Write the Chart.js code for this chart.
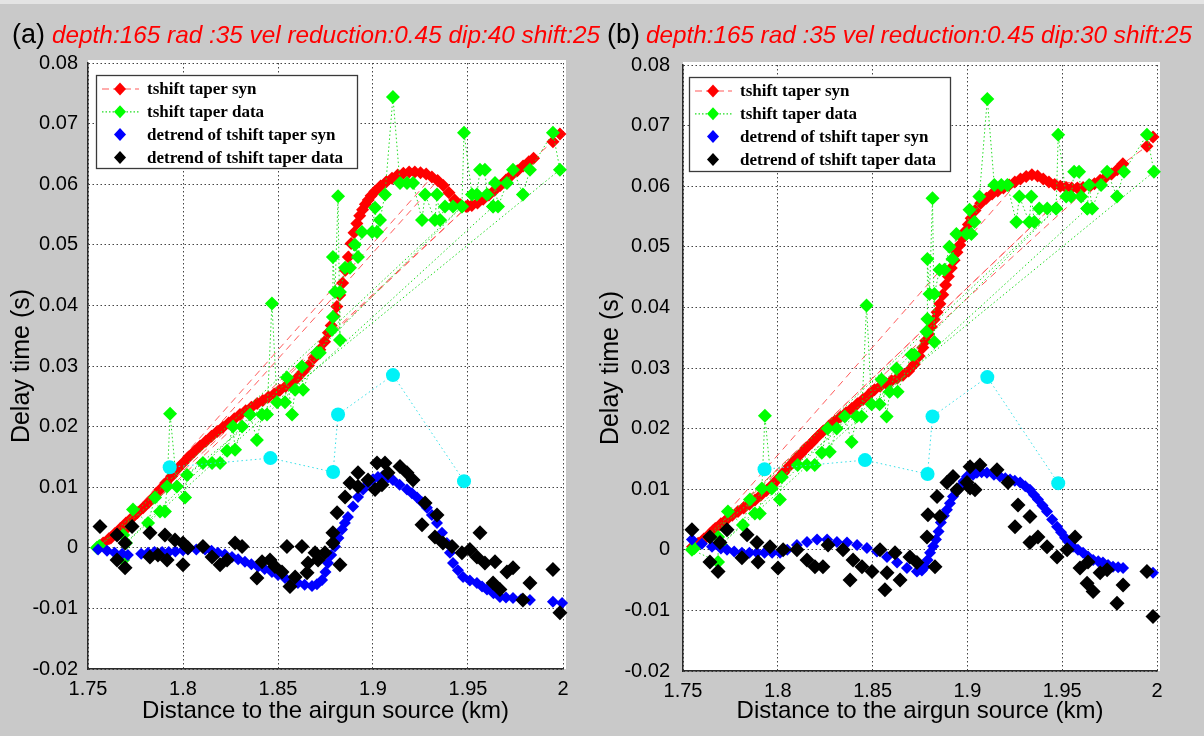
<!DOCTYPE html>
<html><head><meta charset="utf-8">
<script src="https://cdn.jsdelivr.net/npm/chart.js@4.4.0/dist/chart.umd.min.js"></script>
<style>
html,body{margin:0;padding:0;}
body{width:1204px;height:736px;background:#c9c9c9;position:relative;overflow:hidden;font-family:'Liberation Sans',Arial,sans-serif;}
.topline{position:absolute;left:0;top:0;width:1204px;height:4px;background:#e4e4e4;}
.wrap{position:absolute;top:0;height:736px;}
#wa{left:0;width:602px;}
#wb{left:596px;width:608px;}
.lab{position:absolute;font-size:27px;color:#000;white-space:nowrap;line-height:1;z-index:5;}
.hdr{position:absolute;color:#ff0000;font-style:italic;font-size:24px;white-space:nowrap;line-height:1;transform-origin:0 0;z-index:5;}
</style>
</head><body>
<div class="topline"></div>
<div class="wrap" id="wa"><canvas id="ca" width="602" height="736"></canvas></div>
<div class="wrap" id="wb"><canvas id="cb" width="608" height="736"></canvas></div>
<div class="lab" style="left:12px;top:21px;">(a)</div>
<div class="hdr" id="ha" style="left:52px;top:23px;">depth:165 rad :35 vel reduction:0.45 dip:40 shift:25</div>
<div class="lab" style="left:607px;top:21px;">(b)</div>
<div class="hdr" id="hb" style="left:646px;top:23px;">depth:165 rad :35 vel reduction:0.45 dip:30 shift:25</div>
<script>
// ---------- axes ----------
const xTickValues = [1.75, 1.8, 1.85, 1.9, 1.95, 2];
const xTickLabels = ['1.75', '1.8', '1.85', '1.9', '1.95', '2'];
const yTickValues = [-0.02, -0.01, 0, 0.01, 0.02, 0.03, 0.04, 0.05, 0.06, 0.07, 0.08];
const yTickLabels = ['-0.02', '-0.01', '0', '0.01', '0.02', '0.03', '0.04', '0.05', '0.06', '0.07', '0.08'];
const xTitle = 'Distance to the airgun source (km)';
const yTitle = 'Delay time (s)';
const seriesNames = ['tshift taper syn', 'tshift taper data', 'detrend of tshift taper syn', 'detrend of tshift taper data'];

// ---------- panel (a) : tshift taper syn ----------
const synA_part1 = [[1.755,0.0000],[1.758,0.0008],[1.761,0.0015],[1.764,0.0023],[1.767,0.0032],[1.770,0.0041],[1.773,0.0049],[1.776,0.0058],[1.779,0.0066],[1.782,0.0075],[1.785,0.0085],[1.788,0.0096],[1.791,0.0107],[1.794,0.0118],[1.797,0.0130],[1.800,0.0140],[1.803,0.0150],[1.806,0.0159],[1.809,0.0168],[1.812,0.0176],[1.815,0.0184],[1.818,0.0192],[1.821,0.0199],[1.824,0.0206],[1.827,0.0213],[1.830,0.0220],[1.833,0.0226],[1.836,0.0232],[1.839,0.0238],[1.842,0.0243],[1.845,0.0249],[1.848,0.0254],[1.851,0.0260],[1.854,0.0266],[1.857,0.0273],[1.860,0.0280],[1.863,0.0290],[1.866,0.0301],[1.869,0.0313],[1.872,0.0327],[1.8745,0.0340],[1.8765,0.0355],[1.878,0.0367],[1.8795,0.0382],[1.881,0.0398],[1.8825,0.0417],[1.884,0.0437],[1.8855,0.0458],[1.887,0.0480],[1.8885,0.0502],[1.890,0.0520],[1.8915,0.0535],[1.893,0.0548],[1.8945,0.0558],[1.896,0.0567],[1.8975,0.0574],[1.899,0.0581],[1.901,0.0588],[1.904,0.0597],[1.907,0.0604],[1.910,0.0610],[1.913,0.0615],[1.916,0.0618],[1.919,0.0620],[1.922,0.0620],[1.925,0.0619],[1.928,0.0617],[1.931,0.0612]];
const synA_jumps = [[1.762,0.0016],[1.950,0.0564],[1.769,0.0028]];
const synA_part2 = [[1.934,0.0606],[1.937,0.0598],[1.940,0.0586],[1.943,0.0574],[1.946,0.0566],[1.949,0.0563],[1.952,0.0565],[1.955,0.0569],[1.958,0.0575],[1.961,0.0582],[1.964,0.0590],[1.967,0.0598],[1.970,0.0607],[1.973,0.0615],[1.976,0.0622],[1.979,0.0630],[1.982,0.0637],[1.9845,0.0643],[1.9947,0.0670],[1.9984,0.0683]];

// ---------- tshift taper data (same in both panels) ----------
const taperData = [[1.7547,0.0000],[1.7685,-0.0020],[1.7685,0.0021],[1.7737,0.0063],[1.7816,0.0041],[1.7853,0.0083],[1.7879,0.0060],[1.7905,0.0060],[1.7916,0.0101],[1.7932,0.0221],[1.7968,0.0101],[1.8011,0.0083],[1.8021,0.0120],[1.8105,0.0140],[1.8153,0.0140],[1.8195,0.0140],[1.8232,0.0160],[1.8263,0.0200],[1.8274,0.0162],[1.8311,0.0200],[1.8353,0.0220],[1.8389,0.0178],[1.8416,0.0220],[1.8442,0.0220],[1.8468,0.0403],[1.8495,0.0240],[1.8537,0.0240],[1.8547,0.0281],[1.8574,0.0220],[1.8590,0.0261],[1.8626,0.0299],[1.8632,0.0261],[1.8705,0.0322],[1.8720,0.0322],[1.8784,0.0360],[1.8789,0.0381],[1.8789,0.0480],[1.8800,0.0422],[1.8816,0.0580],[1.8826,0.0343],[1.8826,0.0422],[1.8853,0.0462],[1.8879,0.0462],[1.8905,0.0500],[1.8921,0.0480],[1.8942,0.0521],[1.8995,0.0521],[1.9011,0.0561],[1.9021,0.0521],[1.9037,0.0541],[1.9063,0.0583],[1.9105,0.0744],[1.9142,0.0602],[1.9179,0.0602],[1.9211,0.0602],[1.9258,0.0541],[1.9274,0.0583],[1.9326,0.0541],[1.9337,0.0583],[1.9353,0.0541],[1.9379,0.0563],[1.9421,0.0563],[1.9468,0.0563],[1.9479,0.0685],[1.9521,0.0583],[1.9547,0.0583],[1.9563,0.0624],[1.9589,0.0624],[1.9600,0.0583],[1.9632,0.0563],[1.9642,0.0602],[1.9658,0.0563],[1.9705,0.0602],[1.9737,0.0624],[1.9789,0.0583],[1.9826,0.0624],[1.9947,0.0685],[1.9984,0.0624]];
const taperDataJumps = [[1.7560,0.0003],[1.9468,0.0563],[1.7700,0.0008],[1.9632,0.0563]];

// ---------- cyan points (same in both panels) ----------
const cyanPts = [[1.7930,0.0133],[1.8460,0.0148],[1.8790,0.0125],[1.8816,0.0220],[1.9105,0.0285],[1.9479,0.0110]];

// ---------- panel (a) : detrend ----------
const detSynA = [[1.7553,-0.0003],[1.7600,-0.0005],[1.7640,-0.0008],[1.7680,-0.0010],[1.7710,-0.0012],[1.7780,-0.0010],[1.7816,-0.0008],[1.7850,-0.0007],[1.7890,-0.0007],[1.7925,-0.0007],[1.7960,-0.0006],[1.8000,-0.0004],[1.8026,-0.0003],[1.8070,-0.0003],[1.8116,-0.0003],[1.8150,-0.0005],[1.8184,-0.0008],[1.8220,-0.0011],[1.8258,-0.0015],[1.8290,-0.0019],[1.8326,-0.0023],[1.8360,-0.0027],[1.8395,-0.0031],[1.8430,-0.0035],[1.8468,-0.0040],[1.8500,-0.0045],[1.8537,-0.0050],[1.8570,-0.0054],[1.8605,-0.0058],[1.8640,-0.0061],[1.8679,-0.0063],[1.8705,-0.0060],[1.8732,-0.0053],[1.8750,-0.0040],[1.8763,-0.0025],[1.8780,-0.0012],[1.8800,0.0002],[1.8818,0.0016],[1.8837,0.0030],[1.8852,0.0041],[1.8868,0.0051],[1.8895,0.0068],[1.8921,0.0084],[1.8948,0.0096],[1.8974,0.0107],[1.9000,0.0113],[1.9026,0.0117],[1.9050,0.0118],[1.9079,0.0116],[1.9105,0.0112],[1.9140,0.0104],[1.9179,0.0096],[1.9205,0.0090],[1.9232,0.0083],[1.9258,0.0075],[1.9284,0.0066],[1.9310,0.0054],[1.9337,0.0041],[1.9363,0.0025],[1.9389,0.0008],[1.9405,-0.0008],[1.9421,-0.0025],[1.9447,-0.0037],[1.9474,-0.0048],[1.9510,-0.0054],[1.9547,-0.0058],[1.9574,-0.0064],[1.9600,-0.0069],[1.9634,-0.0075],[1.9668,-0.0081],[1.9700,-0.0082],[1.9737,-0.0083],[1.9780,-0.0085],[1.9826,-0.0086],[1.9947,-0.0089],[1.9995,-0.0091]];
const detDataA = [[1.7563,0.0035],[1.7653,0.0021],[1.7653,-0.0020],[1.7695,0.0008],[1.7695,-0.0033],[1.7732,0.0035],[1.7826,0.0025],[1.7826,-0.0015],[1.7868,-0.0012],[1.7905,0.0021],[1.7916,-0.0020],[1.7958,0.0013],[1.8000,0.0008],[1.8000,-0.0028],[1.8026,0.0000],[1.8105,0.0002],[1.8153,-0.0015],[1.8195,-0.0028],[1.8232,-0.0020],[1.8274,0.0008],[1.8311,0.0002],[1.8389,-0.0050],[1.8416,-0.0023],[1.8458,-0.0020],[1.8484,-0.0031],[1.8521,-0.0040],[1.8547,0.0002],[1.8563,-0.0064],[1.8590,-0.0048],[1.8626,0.0002],[1.8653,-0.0041],[1.8658,-0.0025],[1.8695,-0.0008],[1.8711,-0.0020],[1.8747,-0.0008],[1.8789,0.0008],[1.8789,0.0025],[1.8811,0.0058],[1.8826,-0.0028],[1.8853,0.0084],[1.8879,0.0107],[1.8921,0.0124],[1.8921,0.0101],[1.8974,0.0112],[1.9011,0.0096],[1.9021,0.0140],[1.9047,0.0104],[1.9063,0.0140],[1.9079,0.0124],[1.9142,0.0134],[1.9179,0.0124],[1.9211,0.0112],[1.9258,0.0038],[1.9274,0.0074],[1.9326,0.0018],[1.9337,0.0054],[1.9368,0.0008],[1.9416,0.0002],[1.9468,-0.0008],[1.9510,-0.0003],[1.9547,-0.0015],[1.9563,0.0025],[1.9589,-0.0025],[1.9632,-0.0058],[1.9642,-0.0023],[1.9668,-0.0069],[1.9705,-0.0040],[1.9737,-0.0033],[1.9789,-0.0086],[1.9826,-0.0058],[1.9947,-0.0036],[1.9984,-0.0107]];

// ---------- panel (b) : tshift taper syn ----------
const synB_part1 = [[1.755,0.0005],[1.758,0.0011],[1.761,0.0018],[1.764,0.0026],[1.767,0.0035],[1.770,0.0043],[1.773,0.0050],[1.776,0.0057],[1.779,0.0063],[1.782,0.0069],[1.785,0.0075],[1.788,0.0082],[1.791,0.0090],[1.794,0.0098],[1.797,0.0107],[1.800,0.0117],[1.803,0.0127],[1.806,0.0138],[1.809,0.0148],[1.812,0.0158],[1.815,0.0168],[1.818,0.0177],[1.821,0.0187],[1.824,0.0196],[1.827,0.0204],[1.830,0.0212],[1.833,0.0219],[1.836,0.0226],[1.839,0.0233],[1.842,0.0241],[1.845,0.0248],[1.848,0.0256],[1.851,0.0264],[1.854,0.0270],[1.857,0.0275],[1.860,0.0279],[1.863,0.0283],[1.866,0.0288],[1.869,0.0295],[1.872,0.0306],[1.8745,0.0320],[1.8765,0.0334],[1.878,0.0345],[1.8795,0.0356],[1.881,0.0368],[1.8825,0.0380],[1.884,0.0392],[1.8855,0.0406],[1.887,0.0421],[1.8885,0.0437],[1.890,0.0451],[1.8915,0.0465],[1.893,0.0478],[1.8945,0.0491],[1.896,0.0503],[1.8975,0.0515],[1.899,0.0526],[1.9005,0.0537],[1.902,0.0547],[1.904,0.0560],[1.907,0.0572],[1.910,0.0580],[1.913,0.0587],[1.916,0.0592],[1.919,0.0597],[1.922,0.0602],[1.925,0.0607],[1.928,0.0612]];
const synB_jumps = [[1.760,0.0014],[1.955,0.0597],[1.766,0.0032],[1.965,0.0601]];
const synB_part2 = [[1.931,0.0616],[1.934,0.0619],[1.937,0.0617],[1.940,0.0612],[1.943,0.0607],[1.946,0.0603],[1.949,0.0600],[1.952,0.0598],[1.958,0.0597],[1.961,0.0598],[1.967,0.0604],[1.970,0.0610],[1.973,0.0615],[1.976,0.0620],[1.979,0.0627],[1.982,0.0637],[1.9947,0.0666],[1.9979,0.0681]];

// ---------- panel (b) : detrend ----------
const detSynB = [[1.7547,0.0017],[1.7600,0.0010],[1.7653,0.0005],[1.7700,0.0002],[1.7732,0.0000],[1.7770,-0.0003],[1.7811,-0.0005],[1.7850,-0.0005],[1.7890,-0.0005],[1.7930,-0.0005],[1.7970,-0.0005],[1.8012,-0.0005],[1.8050,0.0000],[1.8101,0.0008],[1.8154,0.0013],[1.8207,0.0017],[1.8260,0.0017],[1.8312,0.0013],[1.8365,0.0012],[1.8418,0.0008],[1.8470,0.0003],[1.8523,-0.0003],[1.8576,-0.0012],[1.8629,-0.0021],[1.8681,-0.0030],[1.8734,-0.0036],[1.8760,-0.0034],[1.8776,-0.0028],[1.8790,-0.0017],[1.8803,-0.0005],[1.8820,0.0006],[1.8834,0.0017],[1.8848,0.0030],[1.8860,0.0045],[1.8876,0.0056],[1.8892,0.0066],[1.8908,0.0077],[1.8924,0.0088],[1.8942,0.0096],[1.8961,0.0104],[1.8980,0.0113],[1.8998,0.0121],[1.9030,0.0124],[1.9050,0.0127],[1.9075,0.0128],[1.9103,0.0127],[1.9140,0.0124],[1.9172,0.0121],[1.9200,0.0118],[1.9225,0.0116],[1.9250,0.0114],[1.9278,0.0111],[1.9305,0.0105],[1.9330,0.0099],[1.9351,0.0091],[1.9372,0.0083],[1.9396,0.0073],[1.9420,0.0063],[1.9447,0.0050],[1.9473,0.0038],[1.9494,0.0029],[1.9515,0.0020],[1.9536,0.0012],[1.9557,0.0005],[1.9583,0.0000],[1.9610,-0.0005],[1.9636,-0.0011],[1.9663,-0.0017],[1.9690,-0.0019],[1.9715,-0.0021],[1.9742,-0.0025],[1.9768,-0.0028],[1.9795,-0.0029],[1.9821,-0.0030],[1.9979,-0.0038]];
const detDataB = [[1.7547,0.0033],[1.7642,0.0021],[1.7642,-0.0020],[1.7685,-0.0036],[1.7695,0.0012],[1.7732,0.0033],[1.7811,-0.0013],[1.7838,0.0025],[1.7890,0.0012],[1.7896,-0.0020],[1.7959,0.0005],[1.8001,-0.0030],[1.8028,0.0000],[1.8101,0.0000],[1.8154,-0.0017],[1.8196,-0.0028],[1.8238,-0.0028],[1.8265,0.0008],[1.8344,0.0000],[1.8381,-0.0050],[1.8397,-0.0017],[1.8444,-0.0028],[1.8497,-0.0036],[1.8539,0.0000],[1.8565,-0.0066],[1.8576,-0.0038],[1.8618,-0.0005],[1.8645,-0.0050],[1.8697,-0.0012],[1.8734,-0.0021],[1.8787,0.0021],[1.8792,0.0058],[1.8829,-0.0028],[1.8840,0.0088],[1.8855,0.0055],[1.8892,0.0111],[1.8924,0.0121],[1.8945,0.0099],[1.8998,0.0111],[1.9014,0.0137],[1.9014,0.0102],[1.9040,0.0099],[1.9066,0.0140],[1.9156,0.0132],[1.9214,0.0111],[1.9251,0.0038],[1.9267,0.0074],[1.9330,0.0055],[1.9330,0.0012],[1.9372,0.0021],[1.9420,0.0005],[1.9473,-0.0012],[1.9526,0.0000],[1.9568,0.0021],[1.9594,-0.0030],[1.9631,-0.0055],[1.9636,-0.0020],[1.9663,-0.0069],[1.9700,-0.0038],[1.9737,-0.0033],[1.9789,-0.0088],[1.9821,-0.0058],[1.9947,-0.0036],[1.9979,-0.0110]];

// ---------- helpers ----------
const toXY = arr => arr.map(p => ({x: p[0], y: p[1]}));
const C = {red:'#ff0000', redLine:'#ff5a5a', green:'#00ff00', greenLine:'#22dd22', blue:'#0000ff', black:'#000000', cyan:'#00f2f7', cyanLine:'#33e0e8'};
const TICK_FONT = {family:"'Liberation Sans', Arial, sans-serif", size:20};
const TITLE_FONT = {family:"'Liberation Sans', Arial, sans-serif", size:24};

function datasets(syn, detSyn, detData) {
  return [
    {label:seriesNames[0], data:toXY(syn), showLine:true, borderColor:C.redLine, borderWidth:1, borderDash:[7,5],
     pointStyle:'rectRot', pointRadius:6.5, pointBackgroundColor:C.red, pointBorderWidth:0, order:5, clip:false},
    {label:seriesNames[1], data:toXY(taperData.concat(taperDataJumps)), showLine:true, borderColor:C.greenLine, borderWidth:1, borderDash:[1.5,2.5],
     pointStyle:'rectRot', pointRadius:7, pointBackgroundColor:C.green, pointBorderWidth:0, order:4, clip:false},
    {label:seriesNames[2], data:toXY(detSyn), showLine:false,
     pointStyle:'rectRot', pointRadius:6, pointBackgroundColor:C.blue, pointBorderWidth:0, order:3, clip:false},
    {label:seriesNames[3], data:toXY(detData), showLine:false,
     pointStyle:'rectRot', pointRadius:7.5, pointBackgroundColor:C.black, pointBorderWidth:0, order:2, clip:false},
    {label:'', data:toXY(cyanPts), showLine:true, borderColor:C.cyanLine, borderWidth:1, borderDash:[1.5,3],
     pointStyle:'circle', pointRadius:7, pointBackgroundColor:C.cyan, pointBorderWidth:0, order:1, clip:false}
  ];
}

const bgPlugin = {id:'bg', beforeDraw(chart){const {ctx, chartArea:a} = chart; ctx.save(); ctx.fillStyle='#ffffff'; ctx.fillRect(a.left, a.top-3, a.right-a.left+3, a.bottom-a.top+3); ctx.restore();}};

function legendPlugin(box) {
  return {id:'mlegend', afterDraw(chart){
    const ctx = chart.ctx; ctx.save();
    ctx.fillStyle='#ffffff'; ctx.fillRect(box.x, box.y, box.w, box.h);
    ctx.strokeStyle='#3a3a3a'; ctx.lineWidth=1.3; ctx.strokeRect(box.x+0.5, box.y+0.5, box.w, box.h);
    const rows = [
      {line:true, lc:C.redLine, dash:[7,4], c:C.red},
      {line:true, lc:C.greenLine, dash:[1.5,2], c:C.green},
      {line:false, c:C.blue},
      {line:false, c:C.black}
    ];
    rows.forEach((r, i) => {
      const cy = box.y + 14 + i*22.8;
      if (r.line) { ctx.setLineDash(r.dash); ctx.strokeStyle=r.lc; ctx.lineWidth=1.2; ctx.beginPath(); ctx.moveTo(box.x+6, cy); ctx.lineTo(box.x+43, cy); ctx.stroke(); ctx.setLineDash([]); }
      const mx = box.x+24;
      ctx.fillStyle=r.c; ctx.beginPath(); ctx.moveTo(mx-6, cy); ctx.lineTo(mx, cy-6.5); ctx.lineTo(mx+6, cy); ctx.lineTo(mx, cy+6.5); ctx.closePath(); ctx.fill();
      ctx.fillStyle='#000'; ctx.font="bold 17px 'Liberation Serif', 'Times New Roman', serif"; ctx.textBaseline='middle'; ctx.textAlign='left';
      ctx.fillText(seriesNames[i], box.x+51, cy+1);
    });
    ctx.restore();
  }};
}

function makeChart(id, syn, detSyn, detData, L) {
  return new Chart(document.getElementById(id), {
    type:'scatter',
    data:{datasets:datasets(syn, detSyn, detData)},
    options:{
      responsive:false, animation:false, events:[],
      layout:{padding:{top:L.top, right:L.right, bottom:0, left:0}},
      plugins:{legend:{display:false}, tooltip:{enabled:false}},
      elements:{line:{tension:0}},
      scales:{
        x:{type:'linear', min:1.75, max:2,
           afterBuildTicks:s=>{s.ticks = xTickValues.map(v=>({value:v}));},
           afterFit:s=>{s.height = L.xh;},
           ticks:{callback:(v,i)=>xTickLabels[i], autoSkip:false, maxRotation:0, font:TICK_FONT, color:'#000', padding:8},
           grid:{color:'#444444', lineWidth:1, drawTicks:false},
           border:{display:true, color:'#2a2a2a', width:1.5, dash:[1.5,2.5]},
           title:{display:true, text:xTitle, font:TITLE_FONT, color:'#000', padding:{top:0, bottom:10}}},
        y:{type:'linear', min:-0.02, max:0.08,
           afterBuildTicks:s=>{s.ticks = yTickValues.map(v=>({value:v}));},
           afterFit:s=>{s.width = L.yw;},
           ticks:{callback:(v,i)=>yTickLabels[i], autoSkip:false, font:TICK_FONT, color:'#000', padding:L.ypad},
           grid:{color:'#444444', lineWidth:1, drawTicks:false},
           border:{display:true, color:'#2a2a2a', width:1.5, dash:[1.5,2.5]},
           title:{display:true, text:yTitle, font:{family:"'Liberation Sans', Arial, sans-serif", size:25}, color:'#000', padding:{top:L.ytp, bottom:0}}}
      }
    },
    plugins:[bgPlugin, legendPlugin(L.legend)]
  });
}

makeChart('ca', synA_part1.concat(synA_jumps, synA_part2), detSynA, detDataA,
  {top:63, right:39, xh:67, yw:88, ypad:10, ytp:7, legend:{x:96, y:75, w:261, h:93}});
makeChart('cb', synB_part1.concat(synB_jumps, synB_part2), detSynB, detDataB,
  {top:65, right:47, xh:65, yw:87, ypad:13, ytp:0, legend:{x:93, y:77, w:261, h:94}});

function fitWidth(id, target) {
  const el = document.getElementById(id);
  const w = el.getBoundingClientRect().width;
  el.style.transform = 'scaleX(' + (target / w) + ')';
}
fitWidth('ha', 548);
fitWidth('hb', 546);
</script>
</body></html>
